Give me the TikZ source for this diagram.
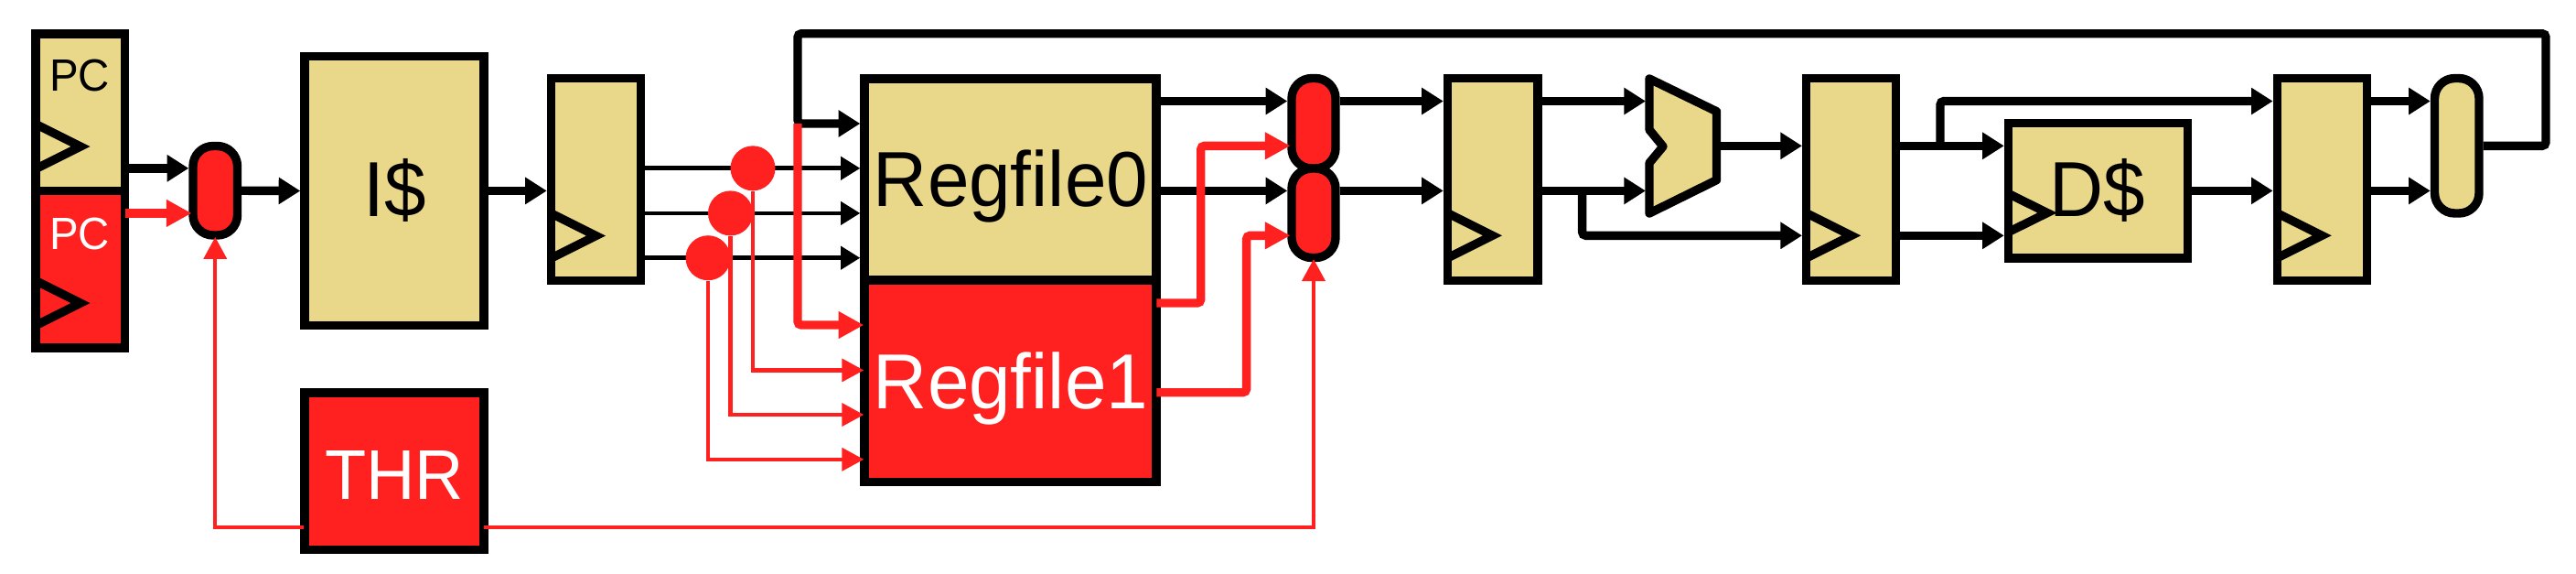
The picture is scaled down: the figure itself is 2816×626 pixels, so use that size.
\documentclass[tikz,border=0pt]{standalone}
\usepackage{fontspec}
\setmainfont{Liberation Sans}
\newfontfamily\labfont[FakeStretch=0.96]{Liberation Sans}
\usetikzlibrary{arrows.meta}
\definecolor{tan}{HTML}{E9D78A}
\definecolor{rd}{HTML}{FF2020}
\tikzset{
  sized/.style 2 args={minimum width=#1*0.25pt,minimum height=#2*0.25pt},
  block/.style={draw=black,line width=2.35pt,inner sep=0pt},
  tanbox/.style={block,fill=tan},
  redbox/.style={block,fill=rd},
  pillr/.style={rounded corners=5.5pt},
  dotnode/.style={circle,fill=rd,inner sep=0pt,minimum size=12.25pt},
  lab/.style={anchor=base,inner sep=0pt,font=\labfont\fontsize{21.3}{24}\selectfont},
  smalllab/.style={lab,font=\labfont\fontsize{12.35}{14}\selectfont},
  wire/.style={line width=2.35pt,rounded corners=1pt,-{Triangle[length=5.9pt,width=7pt]}},
  redwire/.style={wire,draw=rd,-{Triangle[length=6.9pt,width=7pt]}},
  thinwire/.style={line width=1.2pt,-{Triangle[length=5.3pt,width=6.2pt]}},
  redthin/.style={line width=1.1pt,draw=rd,-{Triangle[length=6pt,width=6.2pt]}},
  clk/.style={line width=2.35pt,miter limit=10},
}
\begin{document}
\begin{tikzpicture}[x=0.25pt,y=-0.25pt]
  \useasboundingbox (0,0) rectangle (2816,626);
  \coordinate (rowa) at (0,110.5);
  \coordinate (rowb) at (0,159.3);
  \coordinate (rowc) at (0,208.4);
  \coordinate (rowd) at (0,257.3);
  \coordinate (rowe) at (0,183.8);
  \coordinate (rowf) at (0,232.9);
  \coordinate (rowg) at (0,281.7);
  \coordinate (rowt) at (0,576);
  \coordinate (fbr) at (2783,36.7);
  \coordinate (fbl) at (872,36.7);
  \coordinate (fbin) at (872,135);

  \node[tanbox,sized={97.5}{171.4}] (pc0) at (87.75,122.7) {};
  \node[redbox,sized={97.5}{171.6}] (pc1) at (87.75,294.2) {};
  \node[tanbox,sized={196}{294}] (imem) at (431,208.5) {};
  \node[redbox,sized={196}{171.5}] (thr) at (431,514.75) {};
  \node[redbox,pillr,sized={48.5}{97.5}] (pill0) at (235.25,208.25) {};
  \node[tanbox,sized={319}{220}] (rf0) at (1104.5,196) {};
  \node[redbox,sized={319}{220.5}] (rf1) at (1104.5,416.25) {};
  \node[redbox,pillr,sized={48}{98.5}] (pill1) at (1436,134.75) {};
  \node[redbox,pillr,sized={48}{97.5}] (pill2) at (1436,232.75) {};
  \node[tanbox,sized={196}{147.5}] (dmem) at (2293.5,208.25) {};
  \node[tanbox,pillr,sized={48.5}{147.5}] (pill3) at (2685.75,159.25) {};
  \foreach \xbox/\wbox/\nbox in {651.5/98/reg0, 1631.75/98.5/reg1, 2023.7/98/reg2, 2538.3/98/reg3} {
    \node[tanbox,sized={\wbox}{221}] (\nbox) at (\xbox,196) {};
  }
  \foreach \xclk/\yclk in {39/160, 39/331, 602.5/257.5, 1582.5/257.3, 1974.7/257.3, 2489.3/257.3} {
    \draw[clk] (\xclk,\yclk-24.5) -- (\xclk+49,\yclk) -- (\xclk,\yclk+24.5);
  }
  \draw[clk] (2195.5,211.5) -- (2238,232.5) -- (2195.5,253.5);

  \draw[tanbox,line join=round] (1803,86) -- (1876.5,121.7) -- (1876.5,196.7) -- (1803,233) -- (1803,178) -- (1818,160) -- (1803,141.7) -- cycle;
  \coordinate (alu) at (1881,159.3);
  \coordinate (alua) at (1799,110.5);
  \coordinate (alub) at (1799,208.4);
  \coordinate (br0) at (1729.6,208.4);
  \coordinate (br1) at (2121,159.3);

  \node[smalllab] (pc0lab) at (87,99.8) {PC};
  \node[smalllab,text=white] (pc1lab) at (87,272) {PC};
  \node[lab] (imemlab) at (431.6,236.7) {I\$};
  \node[lab,text=white,font=\labfont\fontsize{19.25}{22}\selectfont] (thrlab) at (431,545) {THR};
  \node[lab] (rf0lab) at (1105,225.5) {Regfile0};
  \node[lab,text=white] (rf1lab) at (1105,446) {Regfile1};
  \node[lab] (dmemlab) at (2293,236) {D\$};

  \draw[wire] (pc0.east |- rowe) -- (pill0.west |- rowe);
  \draw[wire] (pill0.east) -- (imem.west);
  \draw[wire] (imem.east |- rowc) -- (reg0.west |- rowc);
  \foreach \yrow in {rowe, rowf, rowg} {
    \draw[thinwire] (reg0.east |- \yrow) -- (rf0.west |- \yrow);
  }
  \draw[wire] (pill3.east |- rowb) -| (fbr) -- (fbl) -- (fbin) -- (rf0.west |- fbin);
  \draw[wire] (rf0.east |- rowa) -- (pill1.west |- rowa);
  \draw[wire] (rf0.east |- rowc) -- (pill2.west |- rowc);
  \draw[wire] (pill1.east |- rowa) -- (reg1.west |- rowa);
  \draw[wire] (pill2.east |- rowc) -- (reg1.west |- rowc);
  \draw[wire] (reg1.east |- rowa) -- (alua);
  \draw[wire] (reg1.east |- rowc) -- (alub);
  \draw[wire] (br0) |- (reg2.west |- rowd);
  \draw[wire] (alu) -- (reg2.west |- rowb);
  \draw[wire] (reg2.east |- rowb) -- (dmem.west |- rowb);
  \draw[wire] (reg2.east |- rowd) -- (dmem.west |- rowd);
  \draw[wire] (br1) |- (reg3.west |- rowa);
  \draw[wire] (dmem.east |- rowc) -- (reg3.west |- rowc);
  \draw[wire] (reg3.east |- rowa) -- (pill3.west |- rowa);
  \draw[wire] (reg3.east |- rowc) -- (pill3.west |- rowc);

  \draw[redwire,shorten <=-1pt,shorten >=-0.8pt] (pc1.east |- rowf) -- (pill0.west |- rowf);
  \draw[redwire,shorten >=-1pt] (fbin) |- (rf1.west |- 0,355);
  \draw[redwire,shorten <=-1.1pt,shorten >=-0.8pt] (rf1.east |- 0,331) -| (1312.7,159.3) -- (pill1.west |- rowb);
  \draw[redwire,shorten <=-1.1pt,shorten >=-0.8pt] (rf1.east |- 0,428.7) -| (1362.6,257.3) -- (pill2.west |- rowd);
  \foreach \xdot/\yrow/\ytgt/\ndot in {823/rowe/404.4/dot0, 798.5/rowf/453/dot1, 774/rowg/501.8/dot2} {
    \node[dotnode] (\ndot) at (\xdot,0 |- \yrow) {};
    \draw[redthin,shorten >=-1pt] (\ndot.south) |- (rf1.west |- 0,\ytgt);
  }
  \draw[redthin,shorten <=-0.9pt,shorten >=-0.7pt] (thr.west |- rowt) -| (pill0.south);
  \draw[redthin,shorten <=-1.1pt,shorten >=-0.8pt] (thr.east |- rowt) -| (pill2.south);
\end{tikzpicture}
\end{document}
